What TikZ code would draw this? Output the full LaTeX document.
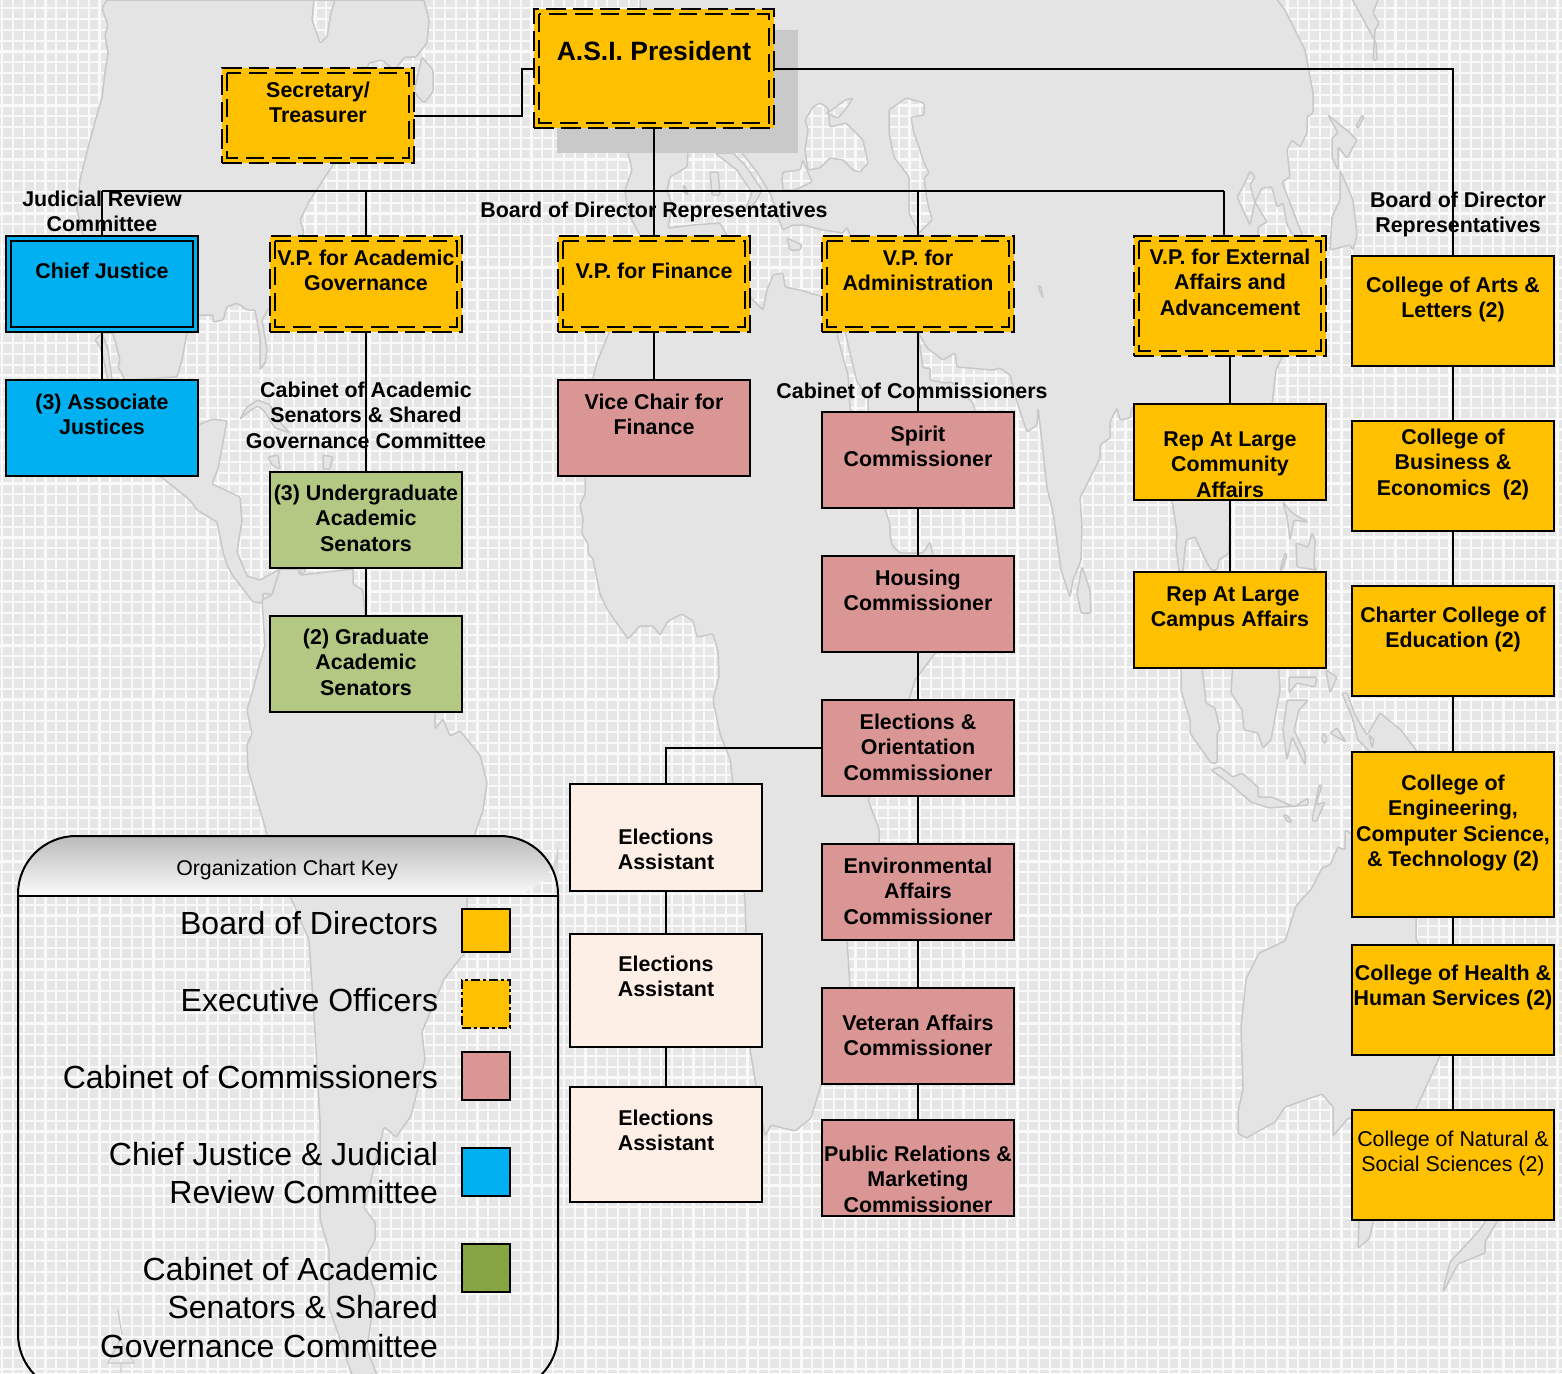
\documentclass[tikz,border=0pt]{standalone}
\usepackage{fontspec}
\setmainfont{Liberation Sans}
\definecolor{gridbase}{HTML}{E6E6E6}
\definecolor{gridline}{HTML}{F9F9F9}
\definecolor{landfill}{HTML}{E4E4E4}
\definecolor{landedge}{HTML}{C8C8C8}
\definecolor{shadowgray}{HTML}{C9C9C9}
\definecolor{boardc}{HTML}{FFC000}
\definecolor{bluec}{HTML}{00B0F0}
\definecolor{pinkc}{HTML}{D99694}
\definecolor{greenc}{HTML}{B3C983}
\definecolor{greenk}{HTML}{85A543}
\definecolor{peachc}{HTML}{FDEFE5}
\tikzset{
  land/.style={fill=landfill,draw=landedge,line width=1.5pt,even odd rule,line join=round,rounded corners=1.2pt},
  boxbase/.style={rectangle,inner sep=0pt,outer sep=0pt,line width=2pt,draw=black},
  boardbox/.style={boxbase,fill=boardc},
  execbox/.style={boxbase,fill=boardc,dash pattern=on 20pt off 7pt},
  innerdash/.style={draw=black,line width=1.5pt,dash pattern=on 18pt off 8pt},
  bluebox/.style={boxbase,fill=bluec},
  pinkbox/.style={boxbase,fill=pinkc},
  greenbox/.style={boxbase,fill=greenc},
  peachbox/.style={boxbase,fill=peachc},
  lbl/.style={align=center,inner sep=0pt,outer sep=0pt,anchor=north,font=\fontsize{21.4}{25.6}\selectfont\bfseries},
  keylbl/.style={align=right,inner sep=0pt,outer sep=0pt,anchor=north east,font=\fontsize{32}{38.6}\selectfont},
  conn/.style={draw=black,line width=2pt},
}
% name x1 y1 x2 y2 style firstbaseline text
\newcommand\orgbox[8]{%
  \node[#6,minimum width={#4pt-#2pt},minimum height={#5pt-#3pt}] (#1) at ({(#2+#4)/2},{(#3+#5)/2}) {};
  \node[lbl] (#1-text) at ({(#2+#4)/2},{#7-19}) {\rule{0pt}{18pt}#8};}
\newcommand\innerframe[2]{%
  \draw[#2] ([xshift=5pt,yshift=-5pt]#1.north west) rectangle ([xshift=-5pt,yshift=5pt]#1.south east);}
\begin{document}
\begin{tikzpicture}[x=1pt,y=-1pt]
\useasboundingbox (0,0) rectangle (1562,1373);
% background grid
\fill[gridbase] (0,0) rectangle (1562,1373);
\foreach \i in {0,...,145}{\draw[gridline,line width=2.2pt] ({2.2+10.8*\i},0) -- ({2.2+10.8*\i},1373);}
\foreach \i in {0,...,127}{\draw[gridline,line width=2.2pt] (0,{8.3+10.8*\i}) -- (1562,{8.3+10.8*\i});}
% North America
\path[land] (107,0)--(102,8)--(105,17)--(108,25)--(105,35)--(108,53)--(105,73)--(102,97)--(90,140)--(80,180)--(77,210)--(83,235)--(100,333)--(113,333)--(120,360)--(118,367)--(125,380)--(177,377)--(182,360)--(187,333)--(198,315)--(213,315)--(213,322)--(223,320)--(227,307)--(237,303)--(247,310)--(255,310)--(260,337)--(260,370)--(265,363)--(267,350)--(262,320)--(280,290)--(304,233)--(300,220)--(310,200)--(333,165)--(369,63)--(382,60)--(394,70)--(405,57)--(416,57)--(427,43)--(429,20)--(424,0)--cycle
  (314,0)--(312,20)--(320,43)--(327,37)--(331,13)--(335,0)--cycle;
\path[land] (422,57)--(414,92)--(424,103)--(433,92)--(433,70)--cycle;
\path[land] (95,340)--(100,347)--(103,357)--(108,380)--(112,380)--(108,350)--(102,333)--cycle;
% Central America
\path[land] (160,476)--(190,500)--(197,510)--(217,522)--(223,552)--(227,565)--(233,576)--(253,602)--(263,603)--(263,593)--(272,595)--(280,569)--(260,580)--(247,576)--(237,552)--(242,521)--(240,497)--(212,484)--(218,469)--(227,421)--(213,419)--(198,425)--(170,440)--cycle;
% South America
\path[land] (262,600)--(272,595)--(280,569)--(298,569)--(300,575)--(353,569)--(353,584)--(363,590)--(365,616)--(400,660)--(435,698)--(435,729)--(443,719)--(450,736)--(460,731)--(480,755)--(487,783)--(483,810)--(475,834)--(467,898)--(467,950)--(444,979)--(422,1032)--(425,1060)--(411,1116)--(396,1137)--(384,1127)--(364,1208)--(375,1222)--(375,1240)--(364,1261)--(375,1293)--(367,1349)--(378,1378)--(353,1378)--(329,1307)--(329,1250)--(320,1219)--(320,1120)--(315,1032)--(309,940)--(291,898)--(267,834)--(248,769)--(247,745)--(252,734)--(247,710)--(252,693)--(265,645)--cycle;
% Caribbean
\path[land] (240,419)--(247,407)--(258,400)--(270,405)--(280,422)--(290,433)--(275,428)--(265,412)--(258,406)--(248,412)--cycle;
\path[land] (268,457)--(278,455)--(280,469)--(272,465)--cycle;
\path[land] (323,455)--(333,457)--(330,469)--(323,469)--cycle;
\path[land] (300,569)--(306,569)--(302,576)--cycle;
\draw[landedge,line width=1.2pt] (108,1363)--(120,1340)--(134,1363)--cycle (121,1363)--(121,1373) (118,1310)--(122,1335);
% Eurasia and Africa with inland seas
\path[land] (640,-3)--(640,120)--(628,153)--(632,170)--(625,190)--(628,213)--(640,235)--(618,300)--(610,330)--(597,362)--(593,378)--(585,476)--(585,494)--(580,505)--(583,519)--(582,534)--(588,544)--(588,553)--(593,559)--(600,594)--(607,609)--(628,639)--(640,626)--(653,626)--(660,635)--(668,621)--(682,614)--(693,621)--(697,637)--(713,634)--(718,651)--(719,676)--(713,700)--(720,734)--(730,759)--(733,784)--(745,900)--(748,1000)--(750,1049)--(756,1085)--(765,1136)--(771,1125)--(795,1131)--(811,1118)--(821,1085)--(835,1040)--(850,986)--(847,941)--(860,900)--(879,843)--(879,829)--(868,800)--(890,760)--(915,680)--(960,620)--(933,555)--(930,542)--(923,553)--(900,553)--(892,545)--(890,535)--(890,525)--(885,508)--(850,408)--(848,375)--(837,335)--(843,322)--(847,340)--(857,382)--(868,397)--(868,410)--(880,470)--(905,507)--(960,480)--(975,425)--(975,410)--(973,403)--(952,382)--(945,383)--(930,380)--(930,368)--(923,368)--(918,332)--(927,348)--(943,360)--(955,353)--(957,367)--(993,370)--(1000,368)--(1010,375)--(1017,402)--(1027,432)--(1037,425)--(1038,408)--(1042,442)--(1047,488)--(1053,512)--(1061,570)--(1070,597)--(1073,580)--(1081,560)--(1082,525)--(1080,498)--(1100,458)--(1100,445)--(1110,438)--(1110,422)--(1117,408)--(1120,420)--(1130,418)--(1132,408)--(1140,404)--(1165,480)--(1172,500)--(1177,533)--(1176,547)--(1179,570)--(1180,580)--(1183,570)--(1186,540)--(1195,537)--(1204,557)--(1211,570)--(1217,570)--(1219,560)--(1229,553)--(1230,500)--(1260,450)--(1272,404)--(1276,370)--(1290,340)--(1303,237)--(1282,182)--(1290,177)--(1287,150)--(1292,140)--(1300,147)--(1307,133)--(1307,117)--(1313,113)--(1313,93)--(1305,50)--(1285,10)--(1275,-3)--cycle
  % Mediterranean
  (688,140)--(688,153)--(687,167)--(670,177)--(667,190)--(672,205)--(668,228)--(693,225)--(720,223)--(725,232)--(740,260)--(750,297)--(763,310)--(767,290)--(773,275)--(783,273)--(785,287)--(800,290)--(823,297)--(850,295)--(850,235)--(847,227)--(843,233)--(823,230)--(803,225)--(793,225)--(783,230)--(780,223)--(771,195)--(757,172)--(742,153)--(738,130)--cycle
  % Baltic
  (813,107)--(820,103)--(828,108)--(830,127)--(846,123)--(863,140)--(868,163)--(860,172)--(853,170)--(843,160)--(830,158)--(820,168)--(808,170)--(805,150)--(808,130)--(805,120)--cycle
  % Black Sea
  (783,172)--(800,170)--(803,160)--(808,172)--(812,182)--(795,190)--(783,190)--(782,178)--cycle
  % Caspian
  (889,110)--(906,98)--(924,103)--(924,115)--(911,117)--(914,133)--(919,147)--(924,163)--(929,173)--(924,178)--(927,200)--(932,220)--(919,233)--(909,213)--(909,177)--(894,157)--(889,133)--cycle
  % Yellow Sea and Japan side
  (1255,202)--(1262,188)--(1272,187)--(1277,207)--(1283,203)--(1287,225)--(1295,238)--(1258,238)--(1258,227)--(1267,222)--cycle
  (1237,197)--(1243,187)--(1250,171)--(1255,177)--(1250,185)--(1255,202)--(1250,225)--cycle
  % islands inside seas
  (826,113)--(838,118)--(845,110)--(853,98)--(845,100)--(832,110)--cycle;
\path[land] (715,153)--(737,170)--(752,193)--(745,210)--(755,203)--(762,190)--(745,165)--(733,153)--cycle;
\path[land] (710,172)--(718,172)--(720,195)--(712,195)--cycle;
\path[land] (683,185)--(686,188)--(688,195)--(684,192)--cycle;
\path[land] (787,238)--(802,245)--(800,250)--(790,250)--cycle;
\path[land] (1038,285)--(1041,287)--(1043,298)--(1040,292)--cycle;
\path[land] (1082,567)--(1090,590)--(1091,613)--(1081,613)--(1077,593)--cycle;
% SE Asia
\path[land] (1181,660)--(1181,690)--(1190,720)--(1190,733)--(1211,763)--(1217,763)--(1217,733)--(1220,730)--(1215,708)--(1206,703)--(1204,683)--(1201,660)--cycle;
\path[land] (1233,660)--(1231,693)--(1242,710)--(1244,730)--(1258,733)--(1263,748)--(1271,740)--(1280,690)--(1278,660)--cycle;
\path[land] (1287,700)--(1308,700)--(1299,710)--(1294,730)--(1305,753)--(1305,765)--(1292,737)--(1287,760)--(1283,730)--cycle;
\path[land] (1289,677)--(1317,677)--(1315,687)--(1297,683)--(1289,693)--cycle;
\path[land] (1326,670)--(1337,677)--(1330,693)--cycle;
\path[land] (1283,502)--(1292,513)--(1308,522)--(1294,520)--(1290,540)--(1287,517)--cycle;
\path[land] (1312,533)--(1315,540)--(1314,567)--(1317,570)--(1297,567)--(1296,543)--(1308,547)--cycle;
\path[land] (1285,553)--(1287,555)--(1282,570)--(1280,570)--cycle;
\path[land] (1211,770)--(1220,767)--(1233,777)--(1242,773)--(1258,787)--(1258,797)--(1272,797)--(1294,807)--(1308,798)--(1308,805)--(1269,808)--(1251,802)--(1229,783)--cycle;
\path[land] (1319,785)--(1322,785)--(1316,805)--(1325,802)--(1316,822)--(1312,820)--cycle;
\path[land] (1283,815)--(1287,815)--(1292,822)--(1288,822)--cycle;
\path[land] (1342,693)--(1347,693)--(1355,715)--(1367,735)--(1380,713)--(1401,730)--(1419,754)--(1372,754)--(1358,740)--(1352,717)--cycle;
\path[land] (1323,733)--(1327,738)--(1325,744)--(1322,740)--cycle;
\path[land] (1330,733)--(1337,728)--(1346,742)--cycle;
\path[land] (1369,735)--(1374,740)--(1372,748)--cycle;
% Australia
\path[land] (1322,868)--(1312,888)--(1296,906)--(1285,941)--(1259,953)--(1246,979)--(1241,1027)--(1243,1089)--(1238,1112)--(1238,1133)--(1246,1138)--(1275,1122)--(1285,1107)--(1322,1094)--(1333,1107)--(1333,1136)--(1345,1122)--(1348,1118)--(1400,1125)--(1416,1109)--(1440,1056)--(1450,1000)--(1416,939)--(1416,917)--(1400,860)--(1345,830)--(1345,850)--(1338,847)--(1330,865)--cycle;
\path[land] (1359,1220)--(1374,1220)--(1369,1239)--(1358,1248)--cycle;
\path[land] (1490,1215)--(1498,1220)--(1485,1242)--(1485,1253)--(1458,1264)--(1447,1285)--(1443,1292)--(1445,1282)--(1450,1262)--(1478,1232)--cycle;
% Far East islands
\path[land] (1328,115)--(1350,133)--(1357,140)--(1347,158)--(1338,147)--(1338,170)--(1332,157)--(1332,138)--(1338,133)--cycle;
\path[land] (1362,115)--(1364,117)--(1358,128)--(1356,127)--cycle;
\path[land] (1340,170)--(1353,200)--(1357,235)--(1353,250)--(1350,245)--(1330,250)--(1332,217)--(1340,200)--cycle;
\path[land] (1351,-3)--(1376,43)--(1377,60)--(1373,60)--(1375,30)--(1379,23)--(1373,13)--(1379,-3)--cycle;
% shadow of the president box
\fill[shadowgray] (557,30) rectangle (798,153);
% executive officers
\orgbox{pres}{534}{9}{774}{128}{execbox}{60}{\fontsize{26.5}{31}\selectfont A.S.I. President}
\innerframe{pres}{innerdash}
\orgbox{sec}{222}{68}{414}{163}{execbox}{98}{Secretary/\\Treasurer}
\innerframe{sec}{innerdash}
\orgbox{vpacad}{270}{236}{462}{332}{execbox}{266}{V.P. for Academic\\Governance}
\innerframe{vpacad}{innerdash}
\orgbox{vpfin}{558}{236}{750}{332}{execbox}{279}{V.P. for Finance}
\innerframe{vpfin}{innerdash}
\orgbox{vpadmin}{822}{236}{1014}{332}{execbox}{266}{V.P. for\\Administration}
\innerframe{vpadmin}{innerdash}
\orgbox{vpext}{1134}{236}{1326}{356}{execbox}{265}{V.P. for External\\Affairs and\\Advancement}
\innerframe{vpext}{innerdash}
% judicial
\orgbox{cj}{6}{236}{198}{332}{bluebox}{279}{Chief Justice}
\innerframe{cj}{line width=2pt,draw=black}
\orgbox{assoc}{6}{380}{198}{476}{bluebox}{410}{(3) Associate\\Justices}
% senators
\orgbox{under}{270}{472}{462}{568}{greenbox}{501}{(3) Undergraduate\\Academic\\Senators}
\orgbox{grad}{270}{616}{462}{712}{greenbox}{645}{(2) Graduate\\Academic\\Senators}
% commissioners
\orgbox{vice}{558}{380}{750}{476}{pinkbox}{410}{Vice Chair for\\Finance}
\orgbox{spirit}{822}{412}{1014}{508}{pinkbox}{442}{Spirit\\Commissioner}
\orgbox{housing}{822}{556}{1014}{652}{pinkbox}{586}{Housing\\Commissioner}
\orgbox{elect}{822}{700}{1014}{796}{pinkbox}{730}{Elections \&\\Orientation\\Commissioner}
\orgbox{envir}{822}{844}{1014}{940}{pinkbox}{874}{Environmental\\Affairs\\Commissioner}
\orgbox{veteran}{822}{988}{1014}{1084}{pinkbox}{1031}{Veteran Affairs\\Commissioner}
\orgbox{pubrel}{822}{1120}{1014}{1216}{pinkbox}{1162}{Public Relations \&\\Marketing\\Commissioner}
% elections assistants
\orgbox{eaone}{570}{784}{762}{891}{peachbox}{845}{Elections\\Assistant}
\orgbox{eatwo}{570}{934}{762}{1047}{peachbox}{972}{Elections\\Assistant}
\orgbox{eathree}{570}{1087}{762}{1202}{peachbox}{1126}{Elections\\Assistant}
% reps at large
\orgbox{repcomm}{1134}{404}{1326}{500}{boardbox}{447}{Rep At Large\\Community\\Affairs}
\orgbox{repcamp}{1134}{572}{1326}{668}{boardbox}{602}{\hspace*{6pt}Rep At Large\\Campus Affairs}
% colleges
\orgbox{arts}{1352}{256}{1554}{366}{boardbox}{293}{College of Arts \&\\Letters (2)}
\orgbox{bus}{1352}{421}{1554}{531}{boardbox}{445}{College of\\Business \&\\Economics\ \ (2)}
\orgbox{charter}{1352}{586}{1554}{696}{boardbox}{623}{Charter College of\\Education (2)}
\orgbox{engin}{1352}{752}{1554}{917}{boardbox}{791}{College of\\Engineering,\\Computer Science,\\\& Technology (2)}
\orgbox{health}{1352}{945}{1554}{1055}{boardbox}{981}{College of Health \&\\Human Services (2)}
\orgbox{natural}{1352}{1110}{1554}{1220}{boardbox}{1147}{\mdseries College of Natural \&\\\mdseries Social Sciences (2)}
% connectors
\coordinate (barL) at (102,191);
\coordinate (barR) at (1224,191);
\draw[conn] (barL) -- (barR);
\draw[conn] (barL) -- (cj);
\draw[conn] (vpacad.north |- barL) -- (vpacad);
\draw[conn] (vpadmin.north |- barL) -- (vpadmin);
\draw[conn] (barR) -- (barR |- vpext.north);
\draw[conn] (pres) -- (vpfin);
\draw[conn] (pres.east) -| (arts.north);
\draw[conn] (pres.west) -- ++(-12,0) |- (sec.east);
\draw[conn] (cj) -- (assoc);
\draw[conn] (vpacad) -- (under);
\draw[conn] (under) -- (grad);
\draw[conn] (vpfin) -- (vice);
\draw[conn] (vpadmin) -- (spirit);
\draw[conn] (spirit) -- (housing);
\draw[conn] (housing) -- (elect);
\draw[conn] (elect) -- (envir);
\draw[conn] (envir) -- (veteran);
\draw[conn] (veteran) -- (pubrel);
\draw[conn] (elect.west) -| (eaone.north);
\draw[conn] (eaone) -- (eatwo);
\draw[conn] (eatwo) -- (eathree);
\draw[conn] (vpext) -- (repcomm);
\draw[conn] (repcomm) -- (repcamp);
\draw[conn] (arts) -- (bus);
\draw[conn] (bus) -- (charter);
\draw[conn] (charter) -- (engin);
\draw[conn] (engin) -- (health);
\draw[conn] (health) -- (natural);
% free labels
\node[lbl] (jrc) at (102,188) {\rule{0pt}{18pt}Judicial Review\\Committee};
\node[lbl] (bodmid) at (654,199) {\rule{0pt}{18pt}Board of Director Representatives};
\node[lbl] (bodright) at (1458,189) {\rule{0pt}{18pt}Board of Director\\Representatives};
\node[lbl] (acadcab) at (366,379) {\rule{0pt}{18pt}Cabinet of Academic\\Senators \& Shared\\Governance Committee};
\node[lbl] (commcab) at (912,380) {\rule{0pt}{18pt}Cabinet of Commissioners};
% legend
\shade[top color=black!27,bottom color=black!1,rounded corners=55pt] (18,897) -- (18,836) -- (558,836) -- (558,897) [sharp corners] -- cycle;
\draw[line width=2pt,rounded corners=58pt] (18,1392) -- (18,836) -- (558,836) -- (558,1392) -- cycle;
\draw[line width=2pt] (18,896) -- (558,896);
\node[inner sep=0pt,font=\fontsize{21.3}{25}\selectfont] (keytitle) at (287,870) {Organization Chart Key};
\node[keylbl] (k1) at (438,909) {\rule{0pt}{25pt}Board of Directors};
\node[keylbl] (k2) at (438,986) {\rule{0pt}{25pt}Executive Officers};
\node[keylbl] (k3) at (438,1063) {\rule{0pt}{25pt}Cabinet of Commissioners};
\node[keylbl] (k4) at (438,1140) {\rule{0pt}{25pt}Chief Justice \& Judicial\\Review Committee};
\node[keylbl] (k5) at (438,1255) {\rule{0pt}{25pt}Cabinet of Academic\\Senators \& Shared\\Governance Committee};
\node[boardbox,minimum width=48pt,minimum height=43pt] (s1) at (486,930) {};
\node[boxbase,fill=boardc,dash pattern=on 9pt off 3pt on 3pt off 3pt,minimum width=48pt,minimum height=48pt] (s2) at (486,1004) {};
\node[pinkbox,minimum width=48pt,minimum height=48pt] (s3) at (486,1076) {};
\node[bluebox,minimum width=48pt,minimum height=48pt] (s4) at (486,1172) {};
\node[boxbase,fill=greenk,minimum width=48pt,minimum height=48pt] (s5) at (486,1268) {};
\end{tikzpicture}
\end{document}
